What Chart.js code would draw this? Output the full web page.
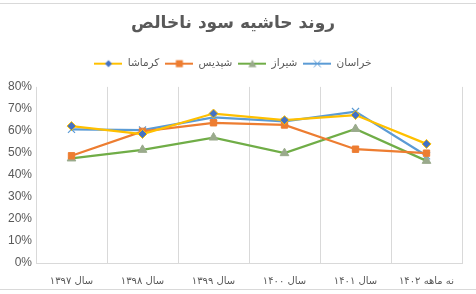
<!DOCTYPE html>
<html>
<head>
<meta charset="utf-8">
<script src="https://cdn.jsdelivr.net/npm/chart.js@4"></script>
<style>
  html, body { margin: 0; padding: 0; background: #fff; }
  #wrap { width: 476px; height: 294px; }
</style>
</head>
<body>
<div id="wrap"><canvas id="marginChart"></canvas></div>
<script>
// categories and series (gross margin, %)
const years = ["سال ۱۳۹۷", "سال ۱۳۹۸", "سال ۱۳۹۹", "سال ۱۴۰۰", "سال ۱۴۰۱", "نه ماهه ۱۴۰۲"];
const kermasha = [62.2, 58.6, 67.9, 64.9, 67.2, 54.1];
const pardis = [48.7, 59.8, 63.7, 62.7, 51.7, 49.9];
const shiraz = [47.5, 51.4, 57.0, 49.9, 60.9, 46.4];
const khorasan = [60.7, 60.4, 66.1, 64.3, 68.8, 48.7];
const seriesNames = ["کرماشا", "شپدیس", "شیراز", "خراسان"];

const persianFont = "'DejaVu Sans', sans-serif";
const gray = "#595959";

// excel style legend sample: line with the marker in the middle
function legendSample(color, marker, fill) {
    const c = document.createElement("canvas");
    c.width = 28;
    c.height = 10;
    const g = c.getContext("2d");
    g.strokeStyle = color;
    g.lineWidth = 2;
    g.beginPath();
    g.moveTo(0, 5);
    g.lineTo(28, 5);
    g.stroke();
    g.fillStyle = fill;
    g.strokeStyle = color;
    g.lineWidth = 1;
    g.beginPath();
    if (marker === "rect") {
        g.rect(10.5, 1.5, 7, 7);
        g.fill();
    } else if (marker === "triangle") {
        g.moveTo(14, 1);
        g.lineTo(18, 8.5);
        g.lineTo(10, 8.5);
        g.closePath();
        g.fill();
    } else if (marker === "rectRot") {
        g.moveTo(14, 1.5);
        g.lineTo(17.5, 5);
        g.lineTo(14, 8.5);
        g.lineTo(10.5, 5);
        g.closePath();
        g.fill();
    } else {
        g.moveTo(10.5, 1.5);
        g.lineTo(17.5, 8.5);
        g.moveTo(17.5, 1.5);
        g.lineTo(10.5, 8.5);
        g.stroke();
    }
    return c;
}

const frameLines = {
    id: "frameLines",
    beforeInit(chart) {
        // extra room under the legend
        const fit = chart.legend.fit;
        chart.legend.fit = function () {
            fit.bind(chart.legend)();
            this.height += 8;
        };
    },
    beforeDraw(chart) {
        const ctx = chart.ctx;
        ctx.save();
        ctx.strokeStyle = "#D9D9D9";
        ctx.lineWidth = 1;
        ctx.beginPath();
        ctx.moveTo(0, 3.5);
        ctx.lineTo(chart.width, 3.5);
        ctx.moveTo(0, 289.5);
        ctx.lineTo(chart.width, 289.5);
        ctx.stroke();
        ctx.restore();
    },
};

function makeSeries(label, data, color, marker, fill, radius) {
    return {
        label: label,
        data: data,
        borderColor: color,
        backgroundColor: color,
        borderWidth: 2.25,
        tension: 0,
        pointStyle: marker,
        pointRadius: radius,
        pointBackgroundColor: fill,
        pointBorderColor: marker === "crossRot" ? color : (marker === "rectRot" ? "#FFC000" : fill),
        pointBorderWidth: marker === "crossRot" ? 1.2 : 1,
        legendImage: legendSample(color, marker, fill),
    };
}

const ctx = document.getElementById("marginChart").getContext("2d");
const marginChart = new Chart(ctx, {
    type: "line",
    data: {
        labels: years,
        datasets: [
            makeSeries(seriesNames[0], kermasha, "#FFC000", "rectRot", "#4472C4", 4.5),
            makeSeries(seriesNames[1], pardis, "#ED7D31", "rect", "#ED7D31", 4.5),
            makeSeries(seriesNames[2], shiraz, "#70AD47", "triangle", "#9AAA8C", 5),
            makeSeries(seriesNames[3], khorasan, "#5B9BD5", "crossRot", "#5B9BD5", 5),
        ],
    },
    options: {
        responsive: true,
        maintainAspectRatio: false,
        animation: false,
        layout: { padding: { left: 4, right: 14, top: 0, bottom: 0 } },
        plugins: {
            title: {
                display: true,
                text: "روند حاشیه سود ناخالص",
                color: gray,
                font: { family: persianFont, size: 17, weight: "bold" },
                padding: { top: 13, bottom: 19 },
            },
            legend: {
                position: "top",
                labels: {
                    color: gray,
                    font: { family: persianFont, size: 10.5 },
                    usePointStyle: true,
                    pointStyleWidth: 28,
                    boxHeight: 10,
                    padding: 6,
                    generateLabels(chart) {
                        return chart.data.datasets.map((ds, i) => ({
                            text: ds.label,
                            pointStyle: ds.legendImage,
                            fillStyle: ds.borderColor,
                            strokeStyle: ds.borderColor,
                            lineWidth: 0,
                            fontColor: gray,
                            hidden: !chart.isDatasetVisible(i),
                            datasetIndex: i,
                        }));
                    },
                },
            },
            tooltip: { enabled: false },
        },
        scales: {
            x: {
                offset: true,
                grid: { display: true, offset: true, color: "#D9D9D9", drawTicks: false },
                border: { display: true, color: "#D9D9D9" },
                ticks: {
                    color: gray,
                    padding: 12,
                    maxRotation: 0,
                    autoSkip: false,
                    font: { family: persianFont, size: 10 },
                },
                afterFit(scale) {
                    scale.height = 31;
                },
            },
            y: {
                min: 0,
                max: 80,
                grid: { display: false, drawTicks: false },
                border: { display: false },
                ticks: {
                    stepSize: 10,
                    color: gray,
                    padding: 4,
                    font: { family: "'Liberation Sans', sans-serif", size: 12 },
                    callback: (v) => v + "%",
                },
                afterFit(scale) {
                    scale.width = 32;
                },
            },
        },
    },
    plugins: [frameLines],
});
</script>
</body>
</html>
